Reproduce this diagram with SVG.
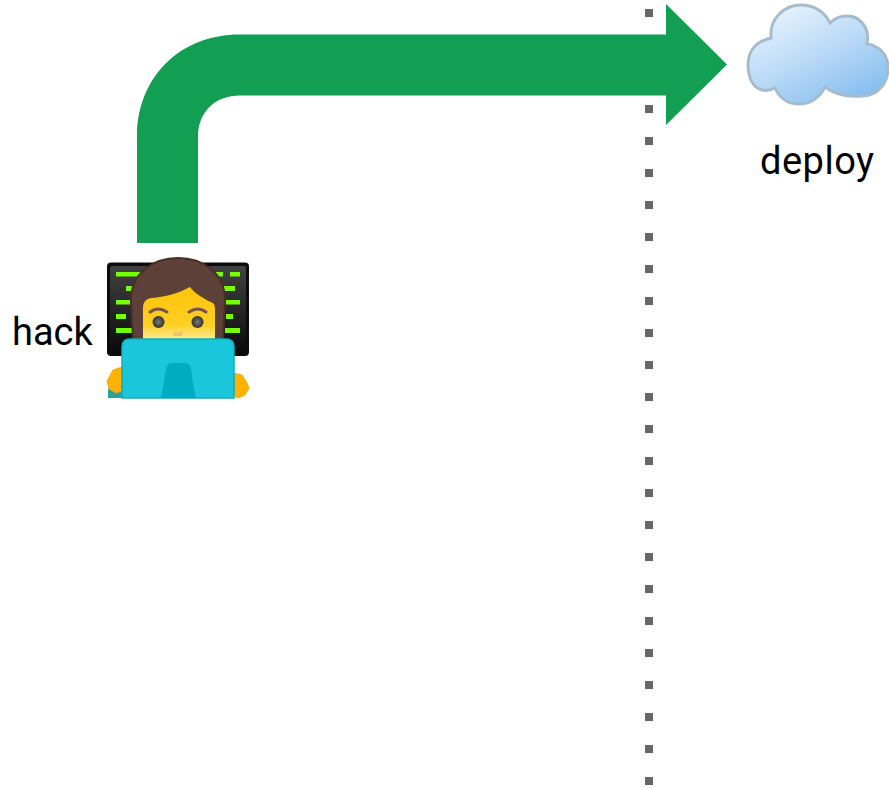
<svg xmlns="http://www.w3.org/2000/svg" width="889" height="788" viewBox="0 0 889 788">
<style>
.lbl{font-family:Roboto,"Liberation Sans",sans-serif;font-size:38px;fill:#000}
.dot{fill:#666}
.code{fill:#76ff03}
.hand{fill:#ffb300;stroke:#f59f00;stroke-width:.8}
.brow{fill:none;stroke:#795548;stroke-width:3;stroke-linecap:round}
</style>
<defs>
<linearGradient id="cloudFill" x1="0.25" y1="0.05" x2="0.85" y2="0.95"><stop offset="0" stop-color="#e3f0fb"/><stop offset="0.5" stop-color="#b7d8f6"/><stop offset="1" stop-color="#82bdf0"/></linearGradient>
<linearGradient id="screenFill" x1="0" y1="0" x2="0" y2="1"><stop offset="0" stop-color="#424242"/><stop offset="1" stop-color="#0a0a0a"/></linearGradient>
<linearGradient id="faceFill" x1="0" y1="0" x2="0" y2="1"><stop offset="0" stop-color="#fdc409"/><stop offset="0.72" stop-color="#ffcf24"/><stop offset="1" stop-color="#ffeb9c"/></linearGradient>
<radialGradient id="eyeFill"><stop offset="0" stop-color="#777"/><stop offset="1" stop-color="#333"/></radialGradient>
<pattern id="dots" width="32" height="32" patternUnits="userSpaceOnUse" x="645" y="9"><rect class="dot" width="8" height="8"/></pattern>
</defs>
<g id="divider"><rect x="645" y="9" width="8" height="776" fill="url(#dots)"/></g>
<g id="connectors">
<path d="M137 243V137C137 77 180 34.500 240 34.500H666V4L727 64.500L666 125V95.500H240C215 95.500 198 112 198 137V243Z" fill="#129f54"/>
</g>
<g id="deploy">
<path d="M748 65C748 50 757 41 771 38C769 18 785 5 801 5C814 5 825 12 830 23C838 15 850 14 858 19C866 25 869 34 867 44C880 46 888 55 888 68C888 84 877 96 862 96C848 97 835 95 825 87C820 98 810 104 798 104C787 104 779 97 775 88C771 90 766 91 762 90C753 88 748 77 748 65Z" fill="url(#cloudFill)" stroke="#a6bccd" stroke-width="3"/>
<text class="lbl" x="760" y="174" letter-spacing=".5">deploy</text>
</g>
<g id="hack">
<text class="lbl" x="12" y="345">hack</text>
<rect x="107" y="262.500" width="142" height="93.500" rx="4" fill="#0c0c0c"/>
<rect x="110" y="266" width="136" height="87" rx="2" fill="url(#screenFill)"/>
<rect x="116" y="272" width="26" height="4.500" class="code"/><rect x="126" y="286" width="8" height="5" class="code"/><rect x="116" y="300" width="14" height="4.500" class="code"/><rect x="116" y="314" width="10" height="5" class="code"/><rect x="116" y="328" width="16" height="5" class="code"/>
<rect x="215" y="272" width="8" height="4.500" class="code"/><rect x="230" y="272" width="10" height="4.500" class="code"/><rect x="223" y="286" width="12" height="5" class="code"/><rect x="226" y="300" width="14" height="4.500" class="code"/><rect x="226" y="314" width="7" height="5" class="code"/><rect x="225" y="328" width="15" height="5" class="code"/>
<path d="M133 340L131 300C131 274 152 258 178 258C204 258 225 274 225 300L223 340Z" fill="#5d4037" stroke="#4a2f27" stroke-width="2"/>
<path d="M143 340V308C143 302 146 299 151 298C167 297 181 292 190 287C194 293 204 299 213 303C214 304 215 306 215 309V340Z" fill="url(#faceFill)"/>
<path d="M150 312Q158 306 167 312" class="brow"/>
<path d="M189 312Q198 306 206 312" class="brow"/>
<circle cx="158.500" cy="322" r="6" fill="url(#eyeFill)"/><circle cx="197.500" cy="322" r="6" fill="url(#eyeFill)"/>
<rect x="173" y="332" width="10" height="4" rx="2" fill="#edc268"/>
<path d="M108 398L108 389L122 386V398Z" fill="#26a69a"/>
<path d="M122 367L113 370L107 381L109 389L116 393L122 391Z" class="hand"/>
<path d="M234 373L242 375L247 383L249 388L245 395L238 398L234 396Z" class="hand"/>
<path d="M122 398V347Q122 339 130 339H226Q234 339 234 347V398Z" fill="#1ac6dc" stroke="#12adbf" stroke-width="1.500"/>
<path d="M161 398C164 385 165 375 166 369Q167 363 173 363H184Q190 363 191 369C192 375 193 385 196 398Z" fill="#00acc1"/>
</g>
</svg>
